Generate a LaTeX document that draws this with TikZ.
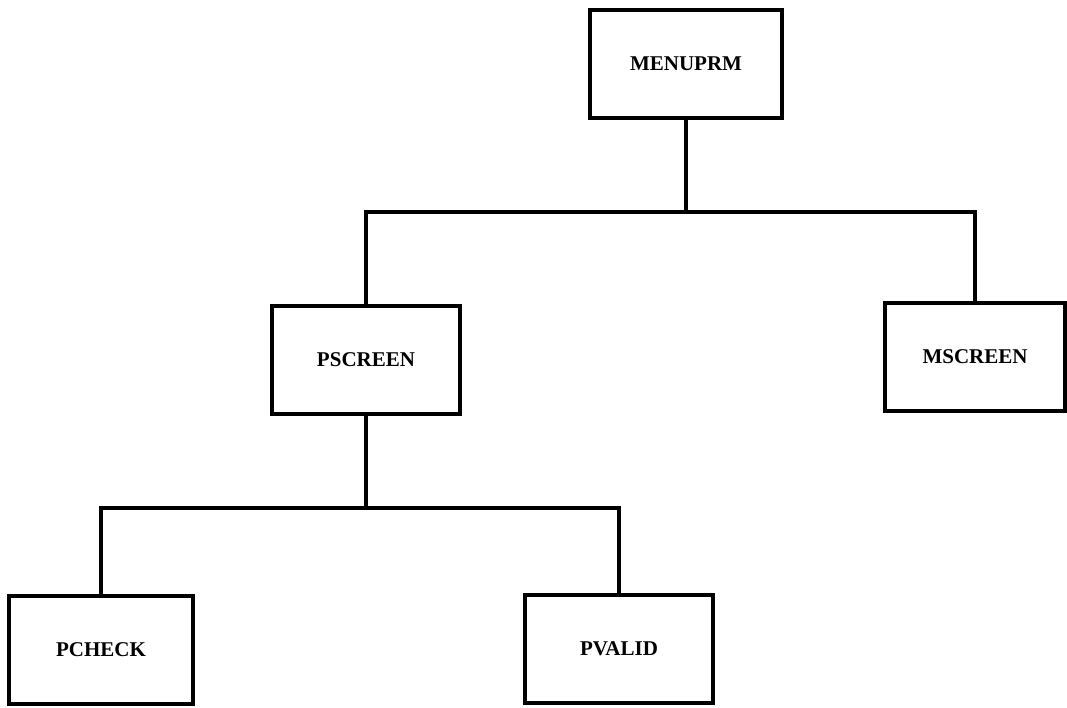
\documentclass[tikz,border=0pt]{standalone}
\usepackage{fontspec}
\setmainfont{Liberation Serif}
\usetikzlibrary{calc}

\begin{document}
\begin{tikzpicture}[x=1pt,y=-1pt,
    module/.style={draw,line width=4pt,minimum width=#1,minimum height=108pt,
                   inner sep=0pt,font=\fontsize{21}{24}\selectfont\bfseries},
    link/.style={line width=4pt,line join=miter}]
          \useasboundingbox (0,0) rectangle (1067,707);
          %MODULES
          \node[module=192pt] (menuprm) at (686,64) {MENUPRM};
          \node[module=188pt] (pscreen) at (366,360) {PSCREEN};
          \node[module=180pt] (mscreen) at (975,357) {MSCREEN};
          \node[module=184pt] (pcheck) at (101,650) {PCHECK};
          \node[module=188pt] (pvalid) at (619,649) {PVALID};
          %BUS
          \coordinate (bus1) at (686,212);
          \coordinate (bus2) at (366,508);
          %LIENS
          \draw[link] (menuprm) -- (bus1);
          \draw[link] (pscreen.north) |- (bus1) -| (mscreen.north);
          \draw[link] (pscreen) -- (bus2);
          \draw[link] (pcheck.north) |- (bus2) -| (pvalid.north);
\end{tikzpicture}
\end{document}
